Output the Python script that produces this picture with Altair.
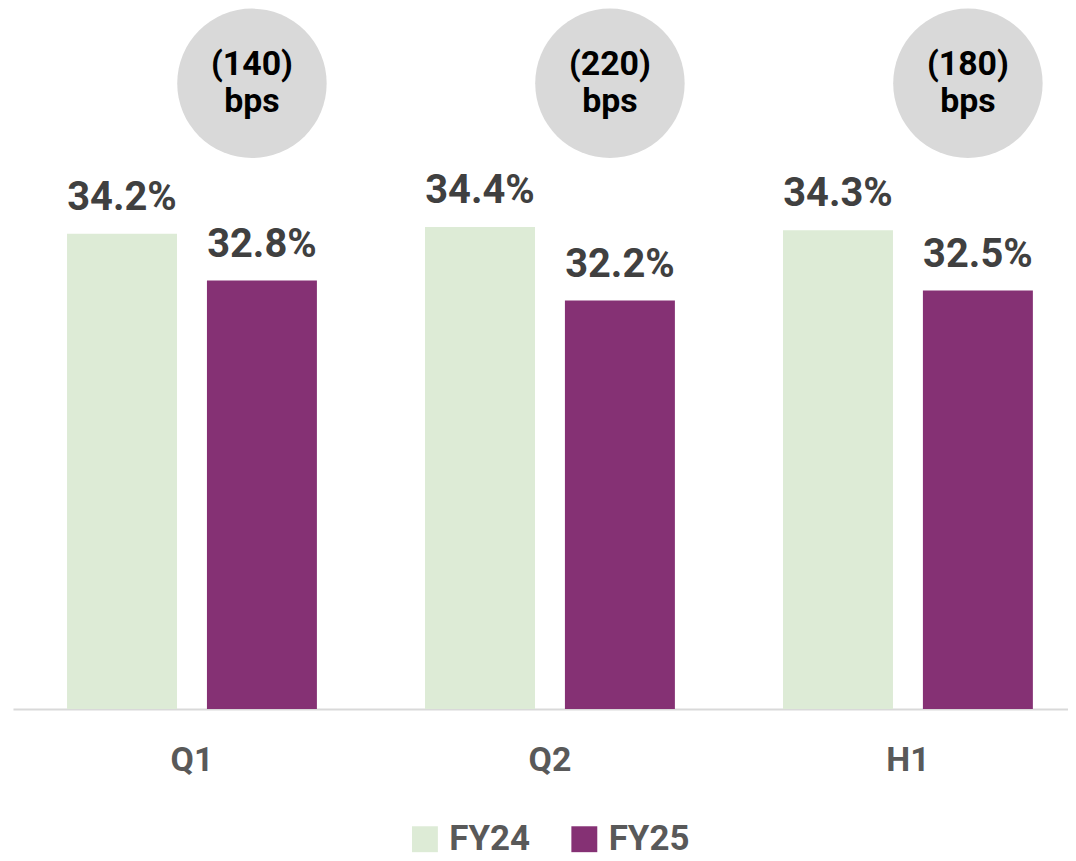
import altair as alt
import pandas as pd

categories = ["Q1", "Q2", "H1"]
years = ["FY24", "FY25"]
fy24 = [34.2, 34.4, 34.3]
fy25 = [32.8, 32.2, 32.5]
bps_labels = ["(140)\nbps", "(220)\nbps", "(180)\nbps"]

rows = []
for c, a, b in zip(categories, fy24, fy25):
    rows.append({"cat": c, "year": "FY24", "value": a, "label": f"{a:.1f}%"})
    rows.append({"cat": c, "year": "FY25", "value": b, "label": f"{b:.1f}%"})
df = pd.DataFrame(rows)
circ = pd.DataFrame({"cat": categories, "txt": bps_labels})

FONT = "Roboto"
x_enc = alt.X(
    "cat:N", sort=categories, title=None,
    scale=alt.Scale(range=[0, 1078], paddingInner=0.302, paddingOuter=0.151),
    axis=alt.Axis(ticks=False, labelPadding=35, labelFontSize=34, labelFont=FONT,
                  labelFontWeight="bold", labelColor="#595959", labelAngle=0,
                  domainColor="#d9d9d9", domainWidth=2, grid=False),
)
xo = alt.XOffset("year:N", sort=years, scale=alt.Scale(paddingInner=0.214, paddingOuter=0))
y_enc = alt.Y("value:Q", scale=alt.Scale(domain=[20, 40], clamp=True, zero=False, nice=False), axis=None)

color = alt.Color(
    "year:N", sort=years, title=None,
    scale=alt.Scale(domain=years, range=["#ddebd6", "#853174"]),
    legend=alt.Legend(orient="none", legendX=396, legendY=785, direction="horizontal",
                      symbolType="square", symbolSize=676, symbolStrokeWidth=0,
                      labelFontSize=35, labelFont=FONT, labelFontWeight="bold",
                      labelColor="#595959", labelOffset=7, columnPadding=36,
                      labelLimit=300),
)

base = alt.Chart(df)
bars = base.mark_bar().encode(x=x_enc, xOffset=xo, y=y_enc, color=color)
labels = base.mark_text(fontSize=40, font=FONT, fontWeight="bold", color="#404040",
                        baseline="alphabetic", dy=-24, align="center").encode(
    x=x_enc, xOffset=xo, y=y_enc, text="label:N")

circles = alt.Chart(circ).mark_circle(color="#d9d9d9", opacity=1, size=22500).encode(
    x=alt.X("cat:N", sort=categories, bandPosition=0.74),
    y=alt.value(44),
)
ctext = alt.Chart(circ).mark_text(fontSize=34, font=FONT, fontWeight="bold", color="#000000",
                                  baseline="alphabetic", align="center", lineBreak="\n",
                                  lineHeight=37).encode(
    x=alt.X("cat:N", sort=categories, bandPosition=0.74),
    y=alt.value(36),
    text="txt:N",
)

chart = alt.layer(bars, labels, circles, ctext).properties(
    width=1059, height=672,
    padding={"left": 5, "top": 30, "right": 0, "bottom": 151},
    autosize=alt.AutoSizeParams(type="none"),
).configure_view(stroke=None)

chart.save("out.html", embed_options={"renderer": "svg", "actions": False})
